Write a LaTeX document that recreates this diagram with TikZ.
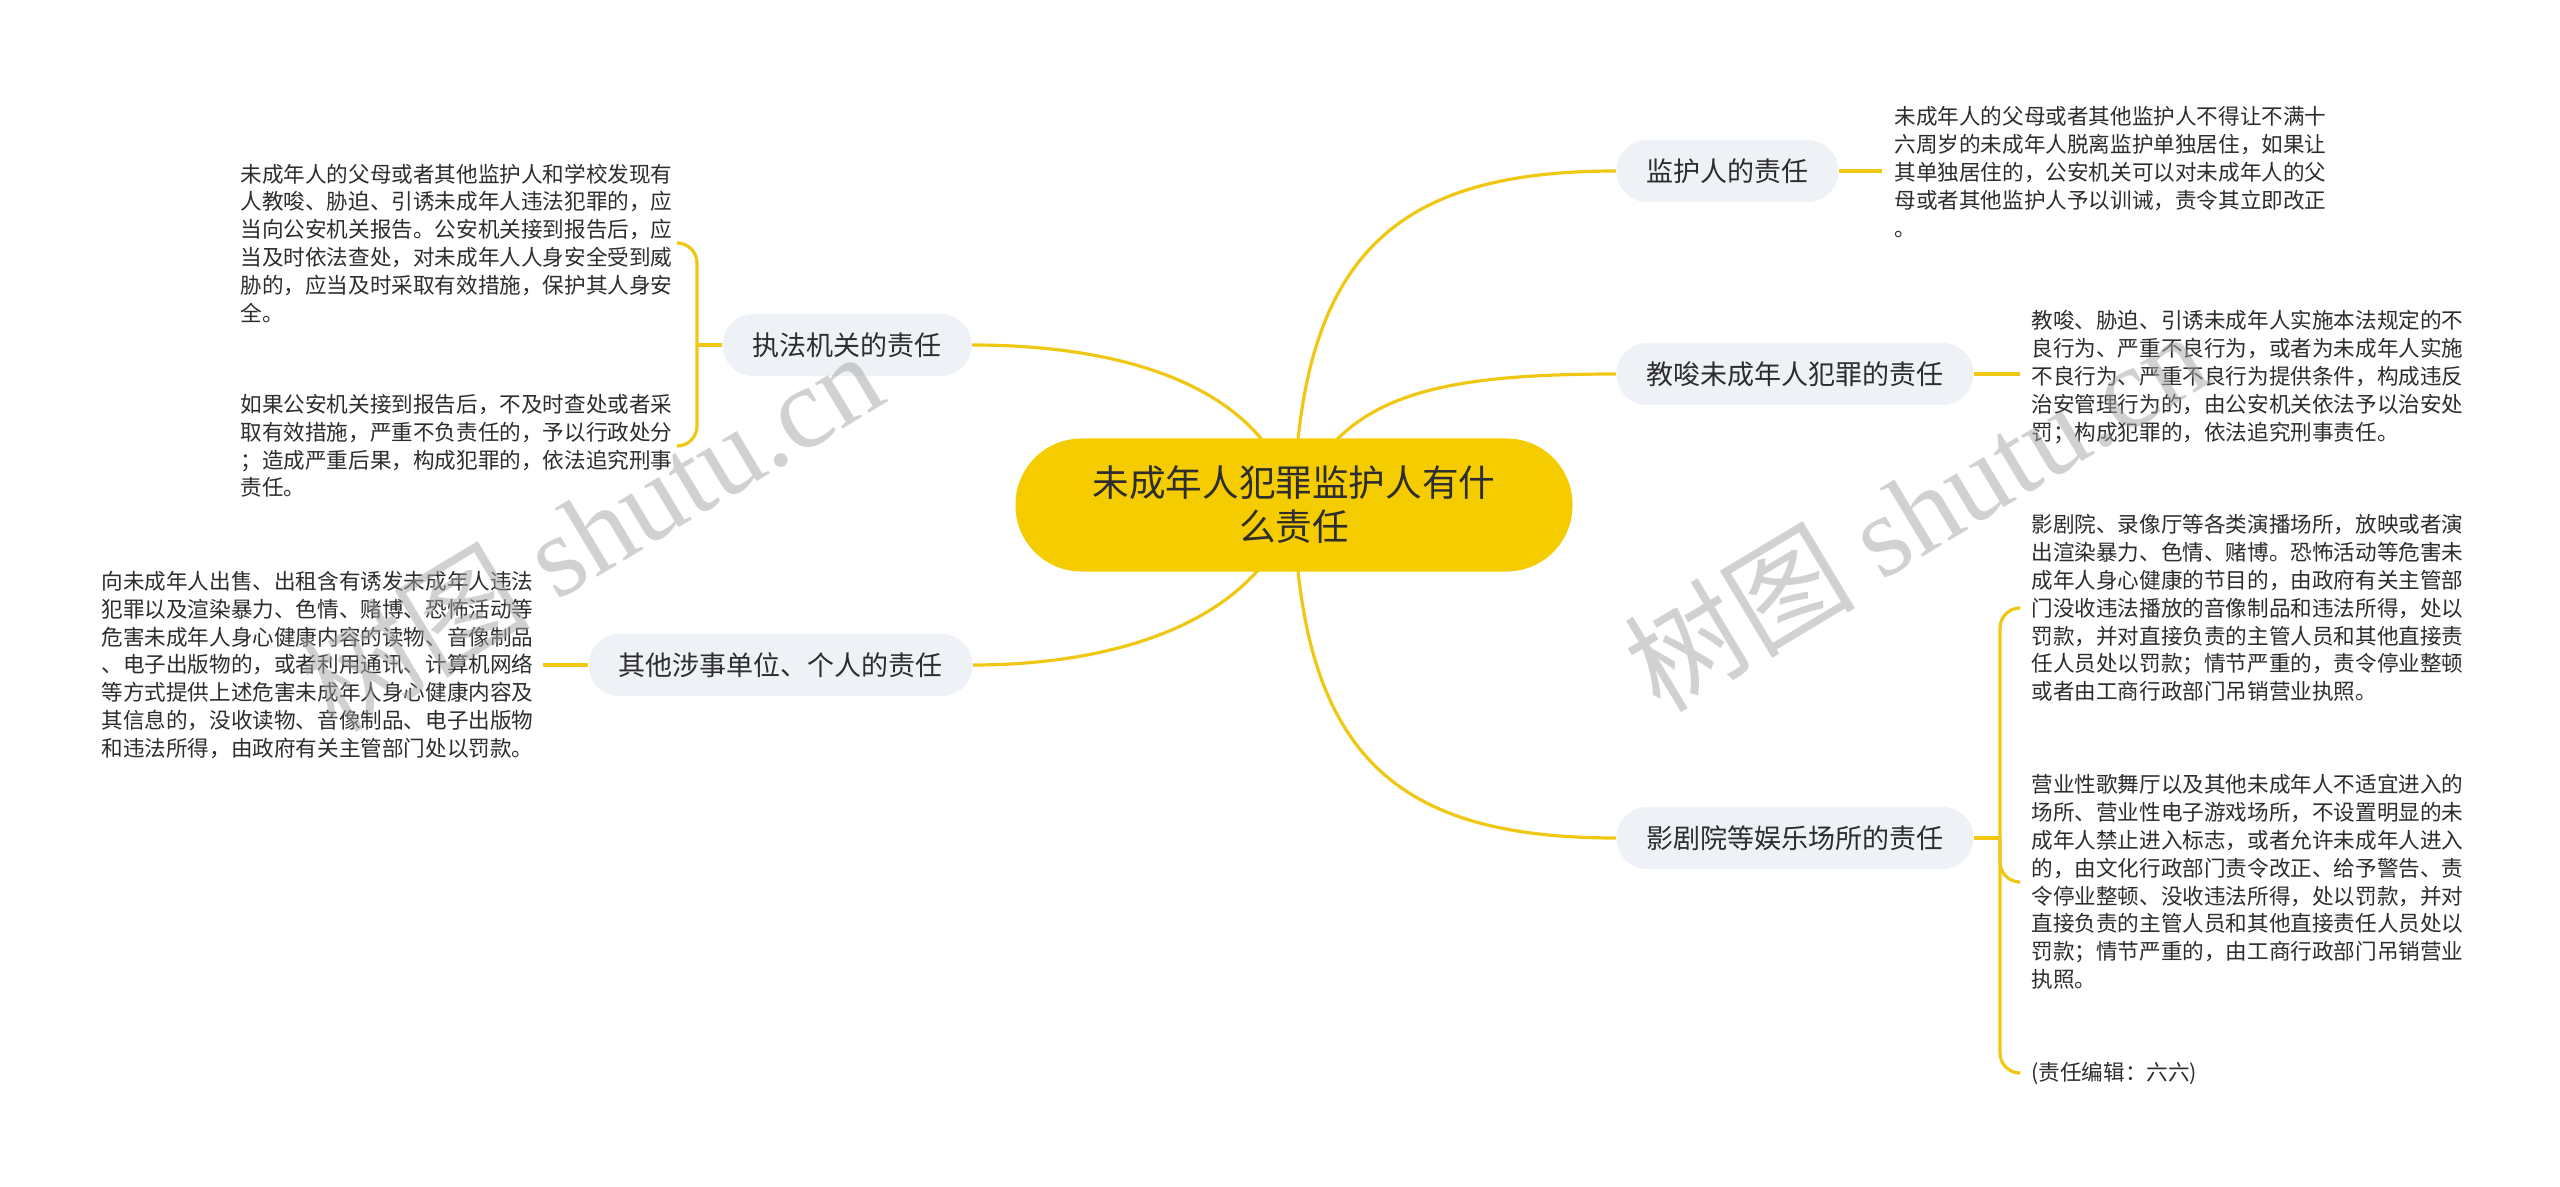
\documentclass[tikz,border=0pt]{standalone}
\usepackage{fontspec}
\setmainfont{Noto Sans CJK SC}
\newfontfamily\wmserif{Liberation Serif}
\usetikzlibrary{backgrounds,calc}
\definecolor{rootyellow}{RGB}{245,204,0}
\definecolor{lineyellow}{RGB}{240,200,20}
\definecolor{branchgray}{RGB}{238,241,245}
\definecolor{textdark}{RGB}{45,45,45}
\definecolor{wmgray}{RGB}{165,165,165}
\begin{document}
\begin{tikzpicture}[x=0.5pt,y=-0.5pt,
  rootnode/.style={fill=rootyellow, rounded corners=33pt, minimum width=278.5pt, minimum height=66.5pt, align=center, font=\fontsize{18.3pt}{22pt}\selectfont, text=textdark, inner sep=0pt},
  branchnode/.style={fill=branchgray, rounded corners=15.5pt, minimum height=31pt, inner xsep=15pt, inner ysep=0pt, font=\fontsize{13.5pt}{16pt}\selectfont, text=textdark},
  leafnode/.style={align=left, inner sep=0pt, font=\fontsize{10.8pt}{13.9pt}\selectfont, text=textdark},
  conn/.style={draw=lineyellow, line width=1.6pt},
  wmark/.style={text=wmgray, text opacity=0.5, font=\fontsize{58pt}{58pt}\selectfont, inner sep=0pt}]
\useasboundingbox (0,0) rectangle (2560,1187);

% root and branches
\node[rootnode] (root) at (1294,505) {未成年人犯罪监护人有什\\么责任};
\node[branchnode, anchor=west] (b1) at (1616,171) {监护人的责任};
\node[branchnode, anchor=west] (b2) at (1616,374) {教唆未成年人犯罪的责任};
\node[branchnode, anchor=west] (b3) at (1616,838) {影剧院等娱乐场所的责任};
\node[branchnode, anchor=east] (b4) at (972,345) {执法机关的责任};
\node[branchnode, anchor=east] (b5) at (973,665) {其他涉事单位、个人的责任};

% leaves
\node[leafnode, anchor=west] (l1) at (1894,172) {未成年人的父母或者其他监护人不得让不满十\\六周岁的未成年人脱离监护单独居住，如果让\\其单独居住的，公安机关可以对未成年人的父\\母或者其他监护人予以训诫，责令其立即改正\\。};
\node[leafnode, anchor=west] (l2) at (2031,377) {教唆、胁迫、引诱未成年人实施本法规定的不\\良行为、严重不良行为，或者为未成年人实施\\不良行为、严重不良行为提供条件，构成违反\\治安管理行为的，由公安机关依法予以治安处\\罚；构成犯罪的，依法追究刑事责任。};
\node[leafnode, anchor=west] (l3a) at (2031,608) {影剧院、录像厅等各类演播场所，放映或者演\\出渲染暴力、色情、赌博。恐怖活动等危害未\\成年人身心健康的节目的，由政府有关主管部\\门没收违法播放的音像制品和违法所得，处以\\罚款，并对直接负责的主管人员和其他直接责\\任人员处以罚款；情节严重的，责令停业整顿\\或者由工商行政部门吊销营业执照。};
\node[leafnode, anchor=west] (l3b) at (2031,882) {营业性歌舞厅以及其他未成年人不适宜进入的\\场所、营业性电子游戏场所，不设置明显的未\\成年人禁止进入标志，或者允许未成年人进入\\的，由文化行政部门责令改正、给予警告、责\\令停业整顿、没收违法所得，处以罚款，并对\\直接负责的主管人员和其他直接责任人员处以\\罚款；情节严重的，由工商行政部门吊销营业\\执照。};
\node[leafnode, anchor=west] (l3c) at (2031,1073) {(责任编辑：六六)};
\node[leafnode, anchor=west] (l4a) at (240,243) {未成年人的父母或者其他监护人和学校发现有\\人教唆、胁迫、引诱未成年人违法犯罪的，应\\当向公安机关报告。公安机关接到报告后，应\\当及时依法查处，对未成年人人身安全受到威\\胁的，应当及时采取有效措施，保护其人身安\\全。};
\node[leafnode, anchor=west] (l4b) at (240,446) {如果公安机关接到报告后，不及时查处或者采\\取有效措施，严重不负责任的，予以行政处分\\；造成严重后果，构成犯罪的，依法追究刑事\\责任。};
\node[leafnode, anchor=west] (l5) at (101,665) {向未成年人出售、出租含有诱发未成年人违法\\犯罪以及渲染暴力、色情、赌博、恐怖活动等\\危害未成年人身心健康内容的读物、音像制品\\、电子出版物的，或者利用通讯、计算机网络\\等方式提供上述危害未成年人身心健康内容及\\其信息的，没收读物、音像制品、电子出版物\\和违法所得，由政府有关主管部门处以罚款。};

\coordinate (j3) at (2000,838);
\coordinate (j4) at (697,345);

% main curves behind root
\begin{scope}[on background layer]
\fill[white] (0,0) rectangle (2560,1187);
\draw[conn] (root.center) .. controls (1300,250) and (1400,171) .. (b1.west);
\draw[conn] (root.center) .. controls (1340,400) and (1420,374) .. (b2.west);
\draw[conn] (root.center) .. controls (1300,760) and (1400,838) .. (b3.west);
\draw[conn] (root.center) .. controls (1270,400) and (1150,345) .. (b4.east);
\draw[conn] (root.center) .. controls (1260,620) and (1120,665) .. (b5.east);
\end{scope}

% branch to leaf connectors
\draw[conn] (b1.east) -- ($(b1.east -| l1.west)+(-12,0)$);
\draw[conn] (b2.east) -- ($(b2.east -| l2.west)+(-11,0)$);
\draw[conn] (b3.east) -- (j3);
\draw[conn, rounded corners=10pt] (j3) |- ($(l3a.west)+(-13,0)$);
\draw[conn, rounded corners=10pt] (j3) |- ($(l3b.west)+(-13,0)$);
\draw[conn, rounded corners=10pt] (j3) |- ($(l3c.west)+(-13,0)$);
\draw[conn] (b4.west) -- (j4);
\draw[conn, rounded corners=10pt] (j4) |- ($(l4a.east)+(6,0)$);
\draw[conn, rounded corners=10pt] (j4) |- ($(l4b.east)+(6,0)$);
\draw[conn] (b5.west) -- ($(b5.west -| l5.east)+(9,0)$);

% watermarks
\node[wmark, anchor=base west, rotate=31] (wm1) at (335,735) {树图 {\wmserif shutu.cn}};
\node[wmark, anchor=base west, rotate=31] (wm2) at (1660,715) {树图 {\wmserif shutu.cn}};
\end{tikzpicture}
\end{document}
